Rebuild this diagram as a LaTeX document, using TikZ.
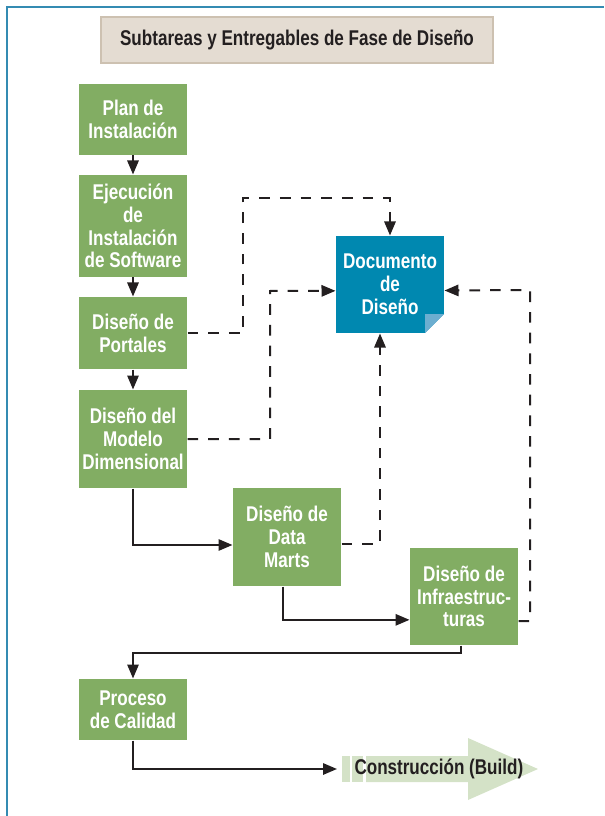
\documentclass[tikz,border=0pt]{standalone}
\usepackage{fontspec}
\newfontfamily\condfont{Liberation Sans}[FakeStretch=0.8]
\usetikzlibrary{arrows.meta}

\definecolor{framecol}{RGB}{52,139,178}
\definecolor{boxgreen}{RGB}{130,173,99}
\definecolor{titlefill}{RGB}{228,220,210}
\definecolor{titleline}{RGB}{205,193,177}
\definecolor{docblue}{RGB}{0,136,176}
\definecolor{docflap}{RGB}{108,174,208}
\definecolor{buildgreen}{RGB}{212,226,199}
\definecolor{inkdark}{RGB}{35,31,32}

\tikzset{every picture/.style={line width=0.75pt}}

\begin{document}
\begin{tikzpicture}[x=0.75pt,y=0.75pt,yscale=-1,xscale=1,
	greenbox/.style={fill=boxgreen, text=white, minimum width=81pt, inner sep=1pt, align=center,
		font=\condfont\bfseries\fontsize{16}{17.1}\selectfont},
	flowline/.style={draw=inkdark, line width=1.5pt, -{Triangle[length=10.5pt,width=8.5pt]}},
	dashline/.style={flowline, dash pattern=on 8pt off 7.5pt}]
	\useasboundingbox (0,0) rectangle (604,816);

	%Straight Lines [frame]
	\draw [draw=framecol, line width=1.5pt]    (7,816) -- (7,7) -- (604,7) ;

	% Text Node [title]
	\node [fill=titlefill, draw=titleline, line width=1.5pt, minimum width=294pt, minimum height=34.5pt,
		text=inkdark, font=\condfont\bfseries\fontsize{16}{17}\selectfont] (title) at (297,40.5)
		{Subtareas y Entregables de Fase de Diseño};

	% Text Node [tasks]
	\node [greenbox, minimum height=53.25pt] (plan) at (133,119.5) {Plan de\\Instalación};
	\node [greenbox, minimum height=76.5pt] (ejec) at (133,226) {Ejecución\\de\\Instalación\\de Software};
	\node [greenbox, minimum height=54pt] (portal) at (133,333) {Diseño de\\Portales};
	\node [greenbox, minimum height=73.5pt] (modelo) at (133,439) {Diseño del\\Modelo\\Dimensional};
	\node [greenbox, minimum height=73.5pt] (marts) at (287,537) {Diseño de\\Data\\Marts};
	\node [greenbox, minimum height=72.75pt] (infra) at (464,596.5) {Diseño de\\Infraestruc-\\turas};
	\node [greenbox, minimum height=45.75pt] (calidad) at (133,709.5) {Proceso\\de Calidad};

	% Text Node [deliverable]
	\node [greenbox, fill=docblue, minimum height=72.75pt,
		path picture={
			\fill [white] ([xshift=-14.25pt]path picture bounding box.south east) -- (path picture bounding box.south east)
				-- ([yshift=14.25pt]path picture bounding box.south east) -- cycle;
			\fill [docflap] ([xshift=-14.25pt]path picture bounding box.south east)
				-- ([xshift=-14.25pt,yshift=14.25pt]path picture bounding box.south east)
				-- ([yshift=14.25pt]path picture bounding box.south east) -- cycle;
		}] (doc) at (390,284.5) {Documento\\de\\Diseño};

	%Shape: Arrow [build]
	\fill [buildgreen] (342,756) rectangle (350,782) ;
	\fill [buildgreen] (352,756) rectangle (363,782) ;
	\fill [buildgreen] (366,756) -- (468,756) -- (468,738) -- (538,769) -- (468,800) -- (468,782) -- (366,782) -- cycle ;
	\node [anchor=west, inner sep=0pt, text=inkdark, font=\condfont\bfseries\fontsize{16}{17}\selectfont] (build) at (354,769) {Construcción (Build)};
	\coordinate (buildin) at (337,769);

	%Straight Lines [sequence]
	\draw [flowline]    (plan) -- (ejec) ;
	\draw [flowline]    (ejec) -- (portal) ;
	\draw [flowline]    (portal) -- (modelo) ;
	\draw [flowline]    (modelo.south) |- ([yshift=6pt]marts.west) ;
	\draw [flowline]    ([xshift=-3pt]marts.south) |- ([yshift=17.5pt]infra.west) ;
	\draw [flowline]    ([xshift=-2.25pt]infra.south) -- ++(0,7) -| (calidad.north) ;
	\draw [flowline]    (calidad.south) |- (buildin) ;

	%Straight Lines [deliverables]
	\draw [dashline]    (portal.east) -| (243,198) -| (doc.north) ;
	\draw [dashline]    (modelo.east) -| (270,291) -- ([yshift=4.75pt]doc.west) ;
	\draw [dashline]    ([yshift=5pt]marts.east) -| ([xshift=-7.5pt]doc.south) ;
	\draw [dashline]    ([yshift=18.5pt]infra.east) -| (530,290) -- ([yshift=4.5pt]doc.east) ;
\end{tikzpicture}
\end{document}
